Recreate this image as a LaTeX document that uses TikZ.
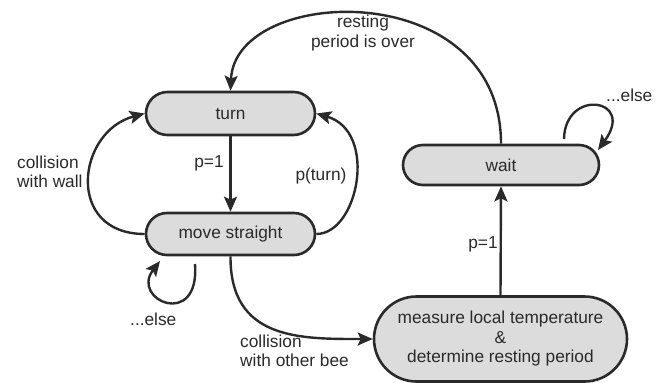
\documentclass[tikz,border=0pt]{standalone}
\usepackage{fontspec}
\setmainfont{Liberation Sans}
\usetikzlibrary{arrows.meta}
\definecolor{ink}{HTML}{2A2A2A}
\definecolor{boxfill}{HTML}{DCDCDC}
\begin{document}
\begin{tikzpicture}[x=1pt,y=-1pt,
  every node/.style={text=ink,font=\fontsize{17.3}{19.5}\selectfont},
  state/.style={draw=ink,fill=boxfill,line width=2.6pt,inner sep=0pt,align=center},
  conn/.style={draw=ink,line width=2.4pt,-{Stealth[length=15pt,width=13pt,inset=3pt]}},
  lbl/.style={inner sep=0pt}
]
\useasboundingbox (0,0) rectangle (662,383);
\node[state,minimum width=169pt,minimum height=43pt,rounded corners=21.5pt] (turn) at (230.5,113.5) {turn};
\node[state,minimum width=169pt,minimum height=42pt,rounded corners=21pt] (move) at (230.5,234) {move straight};
\node[state,minimum width=196pt,minimum height=40pt,rounded corners=20pt] (wait) at (501,165) {wait};
\node[state,minimum width=253pt,minimum height=85pt,rounded corners=42.5pt] (meas) at (500.5,339) {measure local temperature\\\&\\determine resting period};

\coordinate (ws) at (564,139);
\coordinate (we) at (598,150);
\coordinate (ms) at (195,264);
\coordinate (me) at (160,261);

\draw[conn] (turn.south) -- (move.north);
\draw[conn] (move.east) .. controls +(42,0) and +(62,18) .. (turn.east);
\draw[conn] (move.west) .. controls +(-80,0) and +(-68,18) .. (turn.west);
\draw[conn] (wait.north) .. controls (501,-25) and (235,-15) .. (turn.north);
\draw[conn] (ws) .. controls (565,88) and (636,98) .. (we);
\draw[conn] (ms) .. controls (200,330) and (130,300) .. (me);
\draw[conn] (move.south) .. controls (230,340) and (300,339) .. (meas.west);
\draw[conn] (meas.north) -- (wait.south);

\node[lbl,align=center] (l1) at (363,33) {resting\\period is over};
\node[lbl] (l2) at (209,163) {p=1};
\node[lbl] (l3) at (321,176) {p(turn)};
\node[lbl,align=left,anchor=west] (l4) at (17,172) {collision\\with wall};
\node[lbl,anchor=west] (l5) at (606,95) {...else};
\node[lbl,anchor=west] (l6) at (130,319) {...else};
\node[lbl,align=left,anchor=west] (l7) at (240,351) {collision\\with other bee};
\node[lbl] (l8) at (483,244) {p=1};
\end{tikzpicture}
\end{document}
